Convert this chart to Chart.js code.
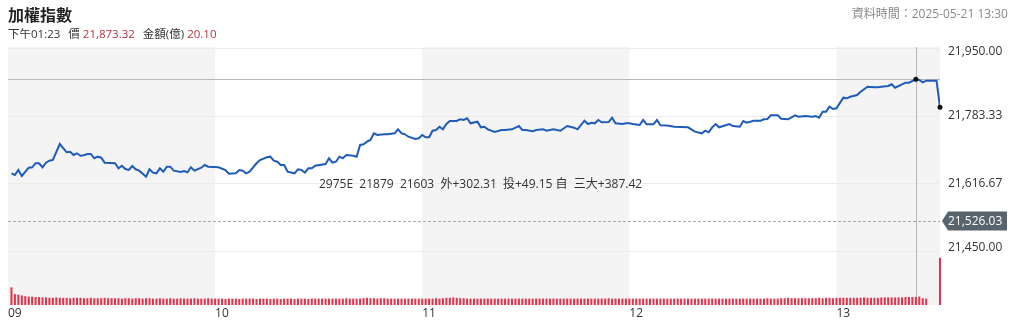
<!DOCTYPE html>
<html>
<head>
<meta charset="utf-8">
<script src="https://cdn.jsdelivr.net/npm/chart.js@4/dist/chart.umd.min.js"></script>
<style>
  html, body { margin:0; padding:0; background:#fff; }
  body { width:1024px; height:323px; position:relative; overflow:hidden;
         font-family:"Open Sans","Noto Sans","Noto Sans CJK TC",sans-serif; }
  #c { position:absolute; left:0; top:0; }
  .t { position:absolute; white-space:pre; }
  #title { left:8px; top:2px; font-size:16px; font-weight:bold; color:#222;
           font-family:"Noto Sans CJK TC","Noto Sans",sans-serif; }
  #info { left:8px; top:25px; font-size:11.5px; color:#333; }
  #info .r { color:#b8323f; }
  #info .g { margin-left:8px; }
  #time { right:16px; top:4px; font-size:12px; color:#888; }
  #note { left:319px; top:174px; font-size:12px; color:#333; }
</style>
</head>
<body>
<canvas id="c" width="1024" height="323"></canvas>
<div class="t" id="title">加權指數</div>
<div class="t" id="info">下午01:23<span class="g">價</span> <span class="r">21,873.32</span><span class="g">金額(億)</span> <span class="r">20.10</span></div>
<div class="t" id="time">資料時間：2025-05-21 13:30</div>
<div class="t" id="note">2975E  21879  21603  外+302.31  投+49.15 自  三大+387.42</div>
<script>
// minutes after 09:00
const priceMinutes = [
  1,2,3,4,6,7,8,9,10,11,
  12,13,15,17,18,19,20,21,22,23,
  24,25,26,27,28,31,32,33,34,35,
  36,37,38,40,41,42,43,44,45,46,
  47,48,50,51,52,53,54,56,57,58,
  61,63,64,66,67,68,69,70,72,73,
  75,76,77,78,79,80,81,83,84,85,
  86,87,88,89,92,93,94,95,96,97,
  98,100,101,102,103,104,105,106,107,109,
  110,112,113,114,115,116,118,119,120,121,
  122,123,124,125,126,127,128,130,131,132,
  133,134,136,137,138,139,141,143,144,146,
  148,149,150,152,153,155,156,158,160,162,
  164,165,167,168,169,170,171,172,174,175,
  176,178,179,180,181,183,184,185,187,188,
  189,191,193,195,197,199,201,202,203,204,
  205,206,209,210,212,213,214,216,218,219,
  220,221,223,224,226,228,229,231,233,234,
  235,236,237,238,239,240,242,243,244,246,
  247,249,251,252,253,255,256,257,259,260,
  261,263,264,265,266,269,270
];
const prices = [
  21642.9,21638.7,21651.0,21636.3,21656.6,21657.6,21667.4,21667.4,21657.6,21668.9,
  21673.8,21675.5,21714.7,21694.4,21695.8,21687.7,21691.9,21686.0,21687.0,21690.2,
  21690.2,21679.7,21683.6,21681.1,21668.9,21667.4,21655.1,21661.5,21653.4,21651.0,
  21660.8,21652.7,21649.3,21634.6,21652.7,21644.4,21642.9,21655.1,21646.8,21659.1,
  21659.1,21649.3,21646.1,21648.5,21645.3,21657.6,21649.3,21656.6,21663.2,21659.1,
  21657.6,21651.0,21642.0,21642.9,21651.0,21649.3,21642.9,21646.8,21667.4,21675.5,
  21682.1,21683.6,21673.8,21671.3,21663.2,21663.2,21646.8,21642.9,21652.7,21651.0,
  21644.4,21655.1,21655.1,21661.5,21665.7,21679.7,21668.9,21671.3,21683.6,21679.7,
  21687.7,21686.0,21683.6,21712.3,21714.0,21720.3,21724.5,21740.9,21736.8,21738.5,
  21738.5,21740.9,21750.7,21740.9,21738.5,21732.6,21727.0,21728.7,21736.8,21731.1,
  21731.1,21747.3,21749.0,21757.1,21750.7,21763.7,21771.1,21771.1,21775.5,21773.5,
  21777.7,21765.4,21769.4,21755.6,21757.1,21750.7,21744.1,21749.0,21749.0,21750.7,
  21758.8,21749.0,21749.0,21745.8,21749.0,21750.7,21747.3,21750.7,21747.3,21758.8,
  21754.7,21750.7,21771.8,21763.7,21766.9,21765.4,21773.5,21767.9,21768.6,21779.2,
  21765.4,21763.7,21765.4,21765.4,21763.7,21761.3,21773.5,21763.0,21763.0,21773.5,
  21760.5,21760.3,21757.1,21756.4,21755.6,21744.9,21740.9,21747.3,21743.4,21755.6,
  21763.7,21755.6,21763.7,21758.8,21757.1,21771.1,21766.9,21771.8,21771.8,21775.2,
  21776.0,21785.0,21785.0,21776.7,21775.2,21785.0,21781.6,21783.3,21781.6,21783.3,
  21779.2,21793.9,21793.9,21806.1,21800.5,21802.2,21828.2,21826.7,21830.6,21834.8,
  21842.9,21855.1,21853.7,21853.7,21855.1,21856.9,21861.0,21852.7,21861.0,21865.0,
  21865.0,21873.32,21871.6,21865.9,21869.9,21869.9,21804.7
];
// trade amount (億) per minute, from 09:01 to 13:26
const volumes = [
  44,27,26,24,22,21,21,20,20,19,
  19,18,18,19,18,18,18,17,18,18,
  18,17,17,18,17,17,17,18,17,17,
  17,17,16,17,17,16,17,17,16,17,
  17,16,16,17,16,16,17,16,16,17,
  16,16,16,17,16,16,16,17,16,16,
  16,16,15,16,16,16,15,16,16,16,
  16,15,16,16,16,15,16,16,15,16,
  16,16,15,16,16,16,15,16,16,16,
  16,16,16,16,16,16,16,17,16,16,
  16,16,17,18,17,17,16,17,17,16,
  16,16,16,16,16,16,16,16,16,16,
  16,16,16,17,16,17,18,18,19,18,
  17,17,16,16,16,16,16,16,16,16,
  16,16,16,16,16,16,16,16,16,16,
  16,16,16,16,16,16,16,16,16,16,
  16,16,16,16,16,16,16,16,16,16,
  16,16,16,17,16,16,16,16,16,16,
  16,16,16,16,16,16,16,16,16,16,
  16,16,16,16,16,16,16,16,16,16,
  16,16,16,16,16,16,16,16,16,16,
  16,16,16,16,16,16,16,16,16,17,
  16,16,16,17,17,18,17,17,17,17,
  17,17,17,17,18,17,18,18,17,18,
  18,18,18,18,18,18,18,19,18,18,
  18,18,19,19,19,19,19,19,19,20,
  20,20,20.1,21,17,16
];
const closeMinute = 270;
const closeVolume = 118;
const hourTicks = [0, 60, 120, 180, 240];
const hourLabels = ['09', '10', '11', '12', '13'];
const priceTicks = [21450, 21616.67, 21783.33, 21950];
const prevClose = 21526.03;
const cursorMinute = 263;
const cursorPrice = 21873.32;
const shadedHours = [[0, 60], [120, 180], [240, 270]];

const linePts = priceMinutes.map((m, i) => ({x: m, y: prices[i]}));
const volPts = volumes.map((v, i) => ({x: i + 1, y: v}));
volPts.push({x: closeMinute, y: closeVolume});

function fmt(v) {
  return v.toLocaleString('en-US', {minimumFractionDigits: 2, maximumFractionDigits: 2});
}

const deco = {
  id: 'deco',
  beforeDraw(chart) {
    const {ctx, chartArea: a, scales: {x}} = chart;
    ctx.save();
    ctx.fillStyle = '#f4f4f4';
    shadedHours.forEach(([s, e]) => {
      const x0 = x.getPixelForValue(s), x1 = x.getPixelForValue(e);
      ctx.fillRect(x0, a.top, x1 - x0, a.bottom - a.top);
    });
    ctx.restore();
  },
  beforeDatasetsDraw(chart) {
    const {ctx, chartArea: a, scales: {x, y}} = chart;
    ctx.save();
    const yp = Math.round(y.getPixelForValue(prevClose)) + 0.5;
    ctx.strokeStyle = '#a8a8a8';
    ctx.lineWidth = 1;
    ctx.setLineDash([3, 2]);
    ctx.beginPath(); ctx.moveTo(a.left, yp); ctx.lineTo(a.right, yp); ctx.stroke();
    ctx.setLineDash([]);
    ctx.strokeStyle = '#b8b8b8';
    const yc = Math.round(y.getPixelForValue(cursorPrice)) + 0.5;
    const xc = Math.round(x.getPixelForValue(cursorMinute)) + 0.5;
    ctx.beginPath(); ctx.moveTo(a.left, yc); ctx.lineTo(a.right, yc); ctx.stroke();
    ctx.beginPath(); ctx.moveTo(xc, a.top); ctx.lineTo(xc, a.bottom); ctx.stroke();
    ctx.restore();
  },
  afterDraw(chart) {
    const {ctx, chartArea: a, scales: {x, y}} = chart;
    ctx.save();
    ctx.fillStyle = '#111';
    [[cursorMinute, cursorPrice], [priceMinutes[priceMinutes.length - 1], prices[prices.length - 1]]].forEach(([m, p]) => {
      ctx.beginPath();
      ctx.arc(x.getPixelForValue(m), y.getPixelForValue(p), 2.5, 0, Math.PI * 2);
      ctx.fill();
    });
    ctx.font = '12px "Open Sans", "Noto Sans", sans-serif';
    ctx.fillStyle = '#333';
    ctx.textBaseline = 'middle';
    ctx.textAlign = 'left';
    priceTicks.forEach(t => {
      let py = y.getPixelForValue(t);
      py = Math.min(Math.max(py, a.top + 5), 248);
      ctx.fillText(fmt(t), a.right + 8, py);
    });
    const yp = y.getPixelForValue(prevClose);
    const bx = a.right + 2, bw = 65, bh = 19;
    ctx.fillStyle = '#59636b';
    ctx.beginPath();
    ctx.moveTo(bx, yp);
    ctx.lineTo(bx + 6, yp - bh / 2);
    ctx.lineTo(bx + bw, yp - bh / 2);
    ctx.lineTo(bx + bw, yp + bh / 2);
    ctx.lineTo(bx + 6, yp + bh / 2);
    ctx.closePath();
    ctx.fill();
    ctx.fillStyle = '#fff';
    ctx.fillText(fmt(prevClose), a.right + 8, yp + 0.5);
    ctx.restore();
  }
};

new Chart(document.getElementById('c'), {
  data: {
    datasets: [
      {
        type: 'line', data: linePts, yAxisID: 'y', xAxisID: 'x',
        borderColor: '#1f5bb8', borderWidth: 2, pointRadius: 0, tension: 0,
        order: 1
      },
      {
        type: 'bar', data: volPts, yAxisID: 'yv', xAxisID: 'x',
        backgroundColor: '#e2354d', barPercentage: 0.6, categoryPercentage: 1,
        clip: false, order: 2
      }
    ]
  },
  options: {
    responsive: false,
    animation: false,
    events: [],
    layout: {padding: {left: 8, top: 47, right: 0, bottom: 0}},
    plugins: {legend: {display: false}, tooltip: {enabled: false}},
    scales: {
      x: {
        type: 'linear', min: 0, max: 270, position: 'bottom', offset: false,
        afterBuildTicks: s => { s.ticks = hourTicks.map(v => ({value: v})); },
        afterFit: s => { s.height = 18; },
        grid: {display: false, drawTicks: false}, border: {display: false},
        ticks: {
          align: 'start', padding: 1, maxRotation: 0, autoSkip: false,
          color: '#333', font: {size: 12, family: '"Open Sans", "Noto Sans", sans-serif'},
          callback: (v) => hourLabels[hourTicks.indexOf(v)]
        }
      },
      y: {
        type: 'linear', position: 'right', min: 21320, max: 21952.5,
        afterBuildTicks: s => { s.ticks = priceTicks.map(v => ({value: v})); },
        afterFit: s => { s.width = 84; },
        grid: {color: '#ececec', drawTicks: false}, border: {display: false},
        ticks: {display: false}
      },
      yv: {
        type: 'linear', display: false, min: 0, max: 645
      }
    }
  },
  plugins: [deco]
});
</script>
</body>
</html>
